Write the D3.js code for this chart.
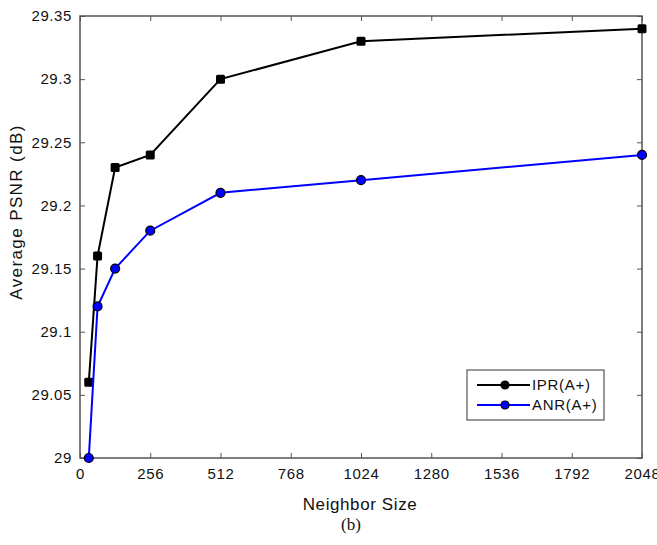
<!DOCTYPE html>
<html>
<head>
<meta charset="utf-8">
<script src="https://cdn.jsdelivr.net/npm/d3@7"></script>
<style>
  body { margin: 0; background: #fff; }
  text { font-family: "Liberation Sans", Arial, sans-serif; }
</style>
</head>
<body>
<div id="chart"></div>
<script>
// neighbor sizes and PSNR values
var neighborSizes = [32, 64, 128, 256, 512, 1024, 2048];
var iprValues = [29.06, 29.16, 29.23, 29.24, 29.30, 29.33, 29.34];
var anrValues = [29.00, 29.12, 29.15, 29.18, 29.21, 29.22, 29.24];
var xTicks = [0, 256, 512, 768, 1024, 1280, 1536, 1792, 2048];
var yTicks = [29, 29.05, 29.1, 29.15, 29.2, 29.25, 29.3, 29.35];

var W = 657, H = 545;
var margin = { top: 16, right: 15, bottom: 87, left: 80 };
var width = W - margin.left - margin.right;
var height = H - margin.top - margin.bottom;

var svg = d3.select("#chart").append("svg")
  .attr("width", W).attr("height", H)
  .style("background-color", "#ffffff");

var g = svg.append("g")
  .attr("transform", "translate(" + margin.left + "," + margin.top + ")");

var x = d3.scaleLinear().domain([0, 2048]).range([0, width]);
var y = d3.scaleLinear().domain([29, 29.35]).range([height, 0]);

var axisColor = "#555";

function styleAxis(sel, showText) {
  sel.select(".domain").remove();
  sel.selectAll(".tick line").attr("stroke", axisColor).attr("stroke-width", 1);
  sel.selectAll("text")
    .attr("fill", showText ? "#111" : "none")
    .style("font-size", "15px")
    .style("letter-spacing", "0.6px");
}

// bottom axis
g.append("g")
  .attr("transform", "translate(0," + height + ")")
  .call(d3.axisBottom(x).tickValues(xTicks).tickSizeInner(-5).tickSizeOuter(0).tickPadding(10).tickFormat(d3.format("d")))
  .call(function (s) { styleAxis(s, true); });

// top axis (ticks only)
g.append("g")
  .call(d3.axisTop(x).tickValues(xTicks).tickSizeInner(-5).tickSizeOuter(0).tickFormat(""))
  .call(function (s) { styleAxis(s, false); });

// left axis
g.append("g")
  .call(d3.axisLeft(y).tickValues(yTicks).tickSizeInner(-5).tickSizeOuter(0).tickPadding(8).tickFormat(function (d) { return d3.format("")(+d.toFixed(2)); }))
  .call(function (s) { styleAxis(s, true); });

// right axis (ticks only)
g.append("g")
  .attr("transform", "translate(" + width + ",0)")
  .call(d3.axisRight(y).tickValues(yTicks).tickSizeInner(-5).tickSizeOuter(0).tickFormat(""))
  .call(function (s) { styleAxis(s, false); });

// box
g.append("rect")
  .attr("x", 0).attr("y", 0)
  .attr("width", width).attr("height", height)
  .attr("fill", "none").attr("stroke", axisColor).attr("stroke-width", 1.5);

// axis titles
svg.append("text")
  .attr("x", 360)
  .attr("y", 510)
  .attr("text-anchor", "middle")
  .style("font-size", "17px")
  .style("letter-spacing", "0.6px")
  .attr("fill", "#111")
  .text("Neighbor Size");

svg.append("text")
  .attr("transform", "rotate(-90)")
  .attr("x", -212)
  .attr("y", 22)
  .attr("text-anchor", "middle")
  .style("font-size", "17px")
  .style("letter-spacing", "1.4px")
  .attr("fill", "#111")
  .text("Average PSNR (dB)");

svg.append("text")
  .attr("x", 351)
  .attr("y", 530)
  .attr("text-anchor", "middle")
  .style("font-family", "'Liberation Serif', 'Times New Roman', serif")
  .style("font-size", "17px")
  .attr("fill", "#111")
  .text("(b)");

var line = d3.line()
  .x(function (d, i) { return x(neighborSizes[i]); })
  .y(function (d) { return y(d); });

// IPR(A+)
g.append("path")
  .attr("d", line(iprValues))
  .attr("fill", "none").attr("stroke", "#000").attr("stroke-width", 2);

g.selectAll(".ipr-pt").data(iprValues).enter().append("rect")
  .attr("class", "ipr-pt")
  .attr("x", function (d, i) { return x(neighborSizes[i]) - 4.5; })
  .attr("y", function (d) { return y(d) - 4.5; })
  .attr("width", 9).attr("height", 9)
  .attr("rx", 1.5)
  .attr("fill", "#000");

// ANR(A+)
g.append("path")
  .attr("d", line(anrValues))
  .attr("fill", "none").attr("stroke", "#0000ff").attr("stroke-width", 2);

g.selectAll(".anr-pt").data(anrValues).enter().append("circle")
  .attr("class", "anr-pt")
  .attr("cx", function (d, i) { return x(neighborSizes[i]); })
  .attr("cy", function (d) { return y(d); })
  .attr("r", 4.5)
  .attr("fill", "#0000ff")
  .attr("stroke", "#000").attr("stroke-width", 1.2);

// legend
var legend = svg.append("g").attr("transform", "translate(467,370)");
legend.append("rect")
  .attr("width", 137).attr("height", 50)
  .attr("fill", "#fff").attr("stroke", axisColor).attr("stroke-width", 1.2);

var legendItems = [
  { name: "IPR(A+)", color: "#000" },
  { name: "ANR(A+)", color: "#0000ff" }
];

legendItems.forEach(function (item, i) {
  var ly = 15 + i * 20;
  legend.append("line")
    .attr("x1", 10).attr("x2", 63)
    .attr("y1", ly).attr("y2", ly)
    .attr("stroke", item.color).attr("stroke-width", 2);
  legend.append("circle")
    .attr("cx", 38).attr("cy", ly).attr("r", 4)
    .attr("fill", item.color).attr("stroke", "#000").attr("stroke-width", 1.2);
  legend.append("text")
    .attr("x", 65).attr("y", ly + 5)
    .style("font-size", "15px")
    .style("letter-spacing", "0.7px")
    .attr("fill", "#111")
    .text(item.name);
});
</script>
</body>
</html>
